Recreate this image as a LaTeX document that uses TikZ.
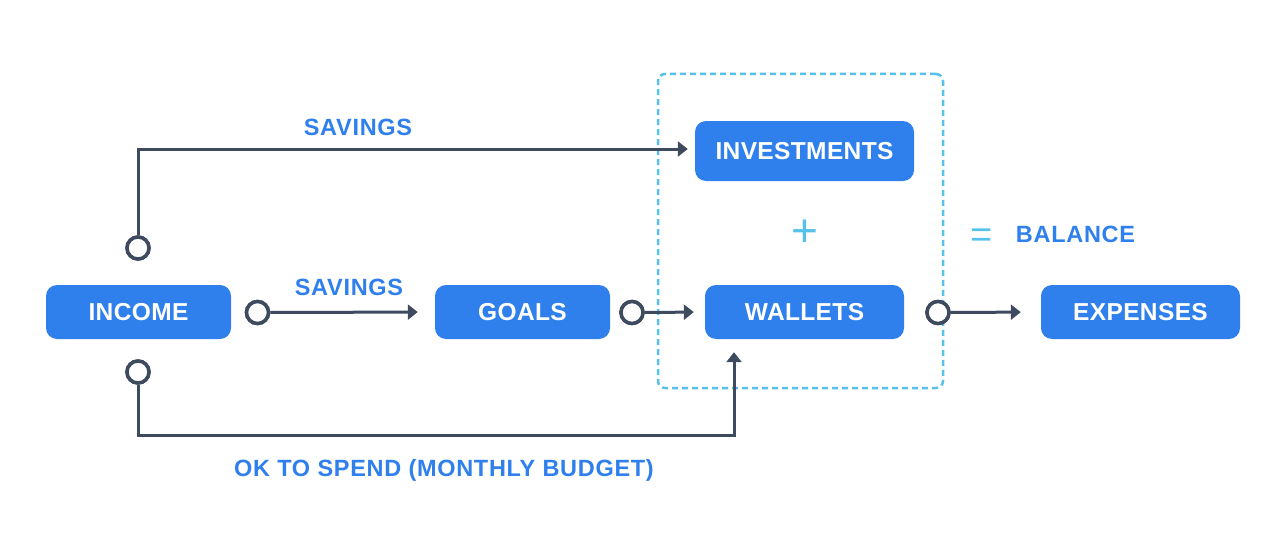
\documentclass[tikz,border=0pt]{standalone}
\usepackage{fontspec}
\setmainfont{Liberation Sans}
\usetikzlibrary{arrows.meta,calc}
\definecolor{boxblue}{HTML}{2F80ED}
\definecolor{darkline}{HTML}{3E4A5E}
\definecolor{lightblue}{HTML}{56C2EC}
\tikzset{
  boxnode/.style={fill=boxblue, rounded corners=11pt, inner sep=0pt, text=white,
    font=\bfseries\fontsize{24.5}{29}\selectfont\addfontfeature{LetterSpace=1.5}, text height=17.5pt, text depth=0pt,
    minimum height=54pt},
  port/.style={circle, draw=darkline, line width=3.5pt, fill=white, minimum size=22pt, inner sep=0pt},
  arr/.style={draw=darkline, line width=3pt, -{Triangle[length=10pt,width=15pt]}},
  lbl/.style={text=boxblue, font=\bfseries\fontsize{23.5}{28}\selectfont\addfontfeature{LetterSpace=3}, text height=16.8pt,
    text depth=0pt, inner sep=0pt},
  sym/.style={text=lightblue, inner sep=0pt}
}
\begin{document}
\begin{tikzpicture}[x=1pt,y=-1pt]
\useasboundingbox (0,0) rectangle (1288,543);
% group frame
\node[draw=lightblue, line width=2.5pt, dash pattern=on 6pt off 4pt, rounded corners=7pt,
  minimum width=285pt, minimum height=314pt, inner sep=0pt] (grp) at (800.5,231) {};
% boxes
\node[boxnode, minimum width=185pt] (income) at (138.5,312) {INCOME};
\node[boxnode, minimum width=175pt] (goals) at (522.5,312) {GOALS};
\node[boxnode, minimum width=199pt] (wallets) at (804.5,312) {WALLETS};
\node[boxnode, minimum width=219pt, minimum height=60pt] (inv) at (804.5,151) {INVESTMENTS};
\node[boxnode, minimum width=199pt] (exp) at (1140.5,312) {EXPENSES};
% ports
\node[port] (c1) at (138,248) {};
\node[port] (c2) at (138,372) {};
\node[port] (c3) at (257.5,312.5) {};
\node[port] (c4) at (632,312.5) {};
\node[port] (c5) at (938,312.5) {};
% helper coordinates
\coordinate (invin) at ($(inv.west)+(0,-2)$);
\coordinate (turn) at (138,435);
\coordinate (wb) at ($(wallets.south)+(-70.5,0)$);
% connectors
\draw[arr, shorten >=7pt] (c1.north) |- (invin);
\draw[arr, shorten >=17pt] (c3.east) -- (goals.west);
\draw[arr, shorten >=11pt] (c4.east) -- (wallets.west);
\draw[arr, shorten >=20pt] (c5.east) -- (exp.west);
\draw[arr, shorten >=13pt] (c2.south) -- (turn) -| (wb);
% redraw ports on top
\node[port] at (c1) {};
\node[port] at (c2) {};
\node[port] at (c3) {};
\node[port] at (c4) {};
\node[port] at (c5) {};
% labels
\node[lbl] (lsav1) at (358,127.5) {SAVINGS};
\node[lbl] (lsav2) at (349,287.5) {SAVINGS};
\node[lbl] (lok) at (444,468) {OK TO SPEND (MONTHLY BUDGET)};
\node[lbl] (lbal) at (1075.5,234) {BALANCE};
\node[sym, font=\fontsize{46}{50}\selectfont] (plus) at (804.5,233) {+};
\node[sym, font=\fontsize{38}{40}\selectfont] (eq) at (981.5,238.5) {=};
\end{tikzpicture}
\end{document}
